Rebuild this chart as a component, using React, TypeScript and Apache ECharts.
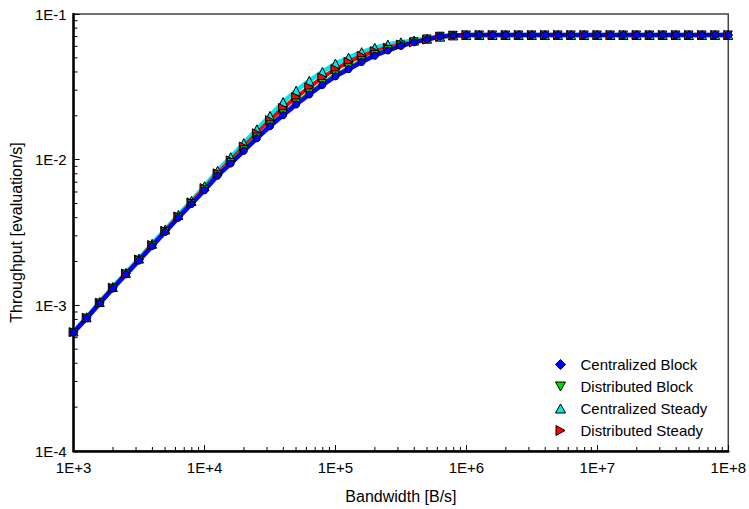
import React, { useEffect, useRef } from 'react';
import * as echarts from 'echarts';

const bandwidth = [
  1e3, 1.259e3, 1.585e3, 1.995e3, 2.512e3, 3.162e3, 3.981e3, 5.012e3, 6.31e3, 7.943e3,
  1e4, 1.259e4, 1.585e4, 1.995e4, 2.512e4, 3.162e4, 3.981e4, 5.012e4, 6.31e4, 7.943e4,
  1e5, 1.259e5, 1.585e5, 1.995e5, 2.512e5, 3.162e5, 3.981e5, 5.012e5, 6.31e5, 7.943e5,
  1e6, 1.259e6, 1.585e6, 1.995e6, 2.512e6, 3.162e6, 3.981e6, 5.012e6, 6.31e6, 7.943e6,
  1e7, 1.259e7, 1.585e7, 1.995e7, 2.512e7, 3.162e7, 3.981e7, 5.012e7, 6.31e7, 7.943e7,
  1e8,
];

const centralizedBlock = [
  6.5e-4, 8.15e-4, 1.033e-3, 1.305e-3, 1.632e-3, 2.03e-3, 2.55e-3, 3.19e-3, 3.99e-3, 4.96e-3,
  6.17e-3, 7.76e-3, 9.4e-3, 1.15e-2, 1.402e-2, 1.696e-2, 2.017e-2, 2.393e-2, 2.8e-2, 3.254e-2,
  3.73e-2, 4.18e-2, 4.68e-2, 5.17e-2, 5.62e-2, 6.04e-2, 6.39e-2, 6.7e-2, 7.02e-2, 7.13e-2,
  7.18e-2, 7.18e-2, 7.18e-2, 7.18e-2, 7.18e-2, 7.18e-2, 7.18e-2, 7.18e-2, 7.18e-2, 7.18e-2,
  7.18e-2, 7.18e-2, 7.18e-2, 7.18e-2, 7.18e-2, 7.18e-2, 7.18e-2, 7.18e-2, 7.18e-2, 7.18e-2,
  7.18e-2,
];

const distributedBlock = [
  6.52e-4, 8.17e-4, 1.036e-3, 1.31e-3, 1.64e-3, 2.04e-3, 2.565e-3, 3.21e-3, 4.02e-3, 5.0e-3,
  6.23e-3, 7.86e-3, 9.55e-3, 1.17e-2, 1.43e-2, 1.735e-2, 2.065e-2, 2.45e-2, 2.87e-2, 3.33e-2,
  3.82e-2, 4.28e-2, 4.78e-2, 5.27e-2, 5.71e-2, 6.12e-2, 6.45e-2, 6.74e-2, 7.04e-2, 7.14e-2,
  7.18e-2, 7.18e-2, 7.18e-2, 7.18e-2, 7.18e-2, 7.18e-2, 7.18e-2, 7.18e-2, 7.18e-2, 7.18e-2,
  7.18e-2, 7.18e-2, 7.18e-2, 7.18e-2, 7.18e-2, 7.18e-2, 7.18e-2, 7.18e-2, 7.18e-2, 7.18e-2,
  7.18e-2,
];

const centralizedSteady = [
  6.61e-4, 8.28e-4, 1.054e-3, 1.336e-3, 1.67e-3, 2.094e-3, 2.646e-3, 3.317e-3, 4.17e-3, 5.21e-3,
  6.57e-3, 8.39e-3, 1.04e-2, 1.298e-2, 1.614e-2, 1.998e-2, 2.485e-2, 2.978e-2, 3.48e-2, 4.005e-2,
  4.565e-2, 5.013e-2, 5.47e-2, 5.86e-2, 6.17e-2, 6.39e-2, 6.57e-2, 6.77e-2, 6.99e-2, 7.13e-2,
  7.18e-2, 7.18e-2, 7.18e-2, 7.18e-2, 7.18e-2, 7.18e-2, 7.18e-2, 7.18e-2, 7.18e-2, 7.18e-2,
  7.18e-2, 7.18e-2, 7.18e-2, 7.18e-2, 7.18e-2, 7.18e-2, 7.18e-2, 7.18e-2, 7.18e-2, 7.18e-2,
  7.18e-2,
];

const distributedSteady = [
  6.55e-4, 8.21e-4, 1.043e-3, 1.321e-3, 1.652e-3, 2.061e-3, 2.597e-3, 3.249e-3, 4.074e-3, 5.09e-3,
  6.38e-3, 8.06e-3, 9.88e-3, 1.229e-2, 1.517e-2, 1.866e-2, 2.263e-2, 2.687e-2, 3.14e-2, 3.67e-2,
  4.18e-2, 4.69e-2, 5.16e-2, 5.56e-2, 5.86e-2, 6.17e-2, 6.39e-2, 6.67e-2, 6.99e-2, 7.13e-2,
  7.18e-2, 7.18e-2, 7.18e-2, 7.18e-2, 7.18e-2, 7.18e-2, 7.18e-2, 7.18e-2, 7.18e-2, 7.18e-2,
  7.18e-2, 7.18e-2, 7.18e-2, 7.18e-2, 7.18e-2, 7.18e-2, 7.18e-2, 7.18e-2, 7.18e-2, 7.18e-2,
  7.18e-2,
];

const seriesNames = ['Centralized Block', 'Distributed Block', 'Centralized Steady', 'Distributed Steady'];
const xMin = 1e3;
const xMax = 1e8;
const yMin = 1e-4;
const yMax = 1e-1;
const xMinorDecades = [1e3, 1e4, 1e5, 1e6, 1e7];
const yMinorDecades = [1e-4, 1e-3, 1e-2];
const minorMultipliers = [2, 3, 4, 5, 6, 7, 8, 9];

const FONT = 'Liberation Sans, Arial, sans-serif';
const DOWN_TRI = 'path://M0,0L10,0L5,9Z';
const RIGHT_TRI = 'path://M0,0L9,5L0,10Z';
const UP_TRI = 'path://M5,0L10,9L0,9Z';
const DIAMOND = 'path://M5,0L10,5L5,10L0,5Z';

export default function App() {
  const ref = useRef<HTMLDivElement>(null);
  useEffect(() => {
    const chart = echarts.init(ref.current!, null, { renderer: 'svg' });
    const pairs = (ys: number[]) => bandwidth.map((x, i) => [x, ys[i]]);
    const xMinor: number[][] = [];
    xMinorDecades.forEach((d) => minorMultipliers.forEach((m) => xMinor.push([m * d, yMin])));
    const yMinor: number[][] = [];
    yMinorDecades.forEach((d) => minorMultipliers.forEach((m) => yMinor.push([xMin, m * d])));

    const expLabel = (v: number, plus: boolean) => {
      const e = Math.round(Math.log10(v));
      return '1E' + (e >= 0 && plus ? '+' : '') + e;
    };

    const lineSeries = (name: string, ys: number[], color: string, symbol: string, size: number, width: number) => ({
      name,
      type: 'line',
      data: pairs(ys),
      symbol,
      symbolSize: size,
      showAllSymbol: true,
      lineStyle: { color, width },
      itemStyle: { color, borderColor: '#000', borderWidth: 1 },
      emphasis: { disabled: true },
    });

    const option: any = {
      animation: false,
      backgroundColor: '#fff',
      textStyle: { fontFamily: FONT },
      grid: {
        left: 71,
        right: 18,
        top: 14,
        bottom: 52,
        show: true,
        borderColor: '#444',
        borderWidth: 1.5,
        backgroundColor: 'transparent',
      },
      legend: {
        orient: 'vertical',
        left: 550,
        top: 352,
        itemWidth: 10,
        itemHeight: 10,
        itemGap: 7,
        symbolKeepAspect: true,
        textStyle: { fontFamily: FONT, fontSize: 15, color: '#000', padding: [0, 0, 0, 10] },
        data: [
          { name: seriesNames[0], icon: DIAMOND, itemStyle: { color: '#0000ff', borderColor: '#000', borderWidth: 1 } },
          { name: seriesNames[1], icon: DOWN_TRI, itemStyle: { color: '#00dd00', borderColor: '#000', borderWidth: 1 } },
          { name: seriesNames[2], icon: UP_TRI, itemStyle: { color: '#00e8e8', borderColor: '#000', borderWidth: 1 } },
          { name: seriesNames[3], icon: RIGHT_TRI, itemStyle: { color: '#ff0000', borderColor: '#000', borderWidth: 1 } },
        ],
      },
      xAxis: {
        type: 'log',
        logBase: 10,
        min: xMin,
        max: xMax,
        name: 'Bandwidth [B/s]',
        nameLocation: 'middle',
        nameGap: 37,
        nameTextStyle: { fontFamily: FONT, fontSize: 16, color: '#000' },
        axisLine: { show: true, lineStyle: { color: '#000', width: 2.5 } },
        axisTick: { show: true, inside: true, length: 6, lineStyle: { color: '#000', width: 1 } },
        axisLabel: {
          fontFamily: FONT,
          fontSize: 15,
          color: '#000',
          margin: 9,
          formatter: (v: number) => expLabel(v, true),
        },
        splitLine: { show: false },
        minorTick: { show: false },
      },
      yAxis: {
        type: 'log',
        logBase: 10,
        min: yMin,
        max: yMax,
        name: 'Throughput [evaluation/s]',
        nameLocation: 'middle',
        nameGap: 42,
        nameTextStyle: { fontFamily: FONT, fontSize: 16, color: '#000' },
        axisLine: { show: true, lineStyle: { color: '#000', width: 2.5 } },
        axisTick: { show: true, inside: true, length: 6, lineStyle: { color: '#000', width: 1 } },
        axisLabel: {
          fontFamily: FONT,
          fontSize: 15,
          color: '#000',
          margin: 7,
          formatter: (v: number) => expLabel(v, false),
        },
        splitLine: { show: false },
        minorTick: { show: false },
      },
      series: [
        {
          type: 'custom',
          name: 'xMinorTicks',
          coordinateSystem: 'cartesian2d',
          silent: true,
          clip: false,
          data: xMinor,
          renderItem: (_p: any, api: any) => {
            const c = api.coord([api.value(0), api.value(1)]);
            return { type: 'line', shape: { x1: c[0], y1: c[1], x2: c[0], y2: c[1] - 4 }, style: { stroke: '#000', lineWidth: 1 } };
          },
        },
        {
          type: 'custom',
          name: 'yMinorTicks',
          coordinateSystem: 'cartesian2d',
          silent: true,
          clip: false,
          data: yMinor,
          renderItem: (_p: any, api: any) => {
            const c = api.coord([api.value(0), api.value(1)]);
            return { type: 'line', shape: { x1: c[0], y1: c[1], x2: c[0] + 4, y2: c[1] }, style: { stroke: '#000', lineWidth: 1 } };
          },
        },
        lineSeries(seriesNames[2], centralizedSteady, '#00e8e8', 'triangle', 9, 4.5),
        lineSeries(seriesNames[3], distributedSteady, '#ff0000', RIGHT_TRI, 9, 4),
        lineSeries(seriesNames[1], distributedBlock, '#00dd00', DOWN_TRI, 8, 4),
        lineSeries(seriesNames[0], centralizedBlock, '#0000ff', 'circle', 7, 4.5),
      ],
    };
    chart.setOption(option);
    return () => chart.dispose();
  }, []);
  return (
    <div
      ref={ref}
      style={{ position: 'fixed', left: 0, top: 0, width: 749, height: 509, background: '#fff' }}
    />
  );
}
